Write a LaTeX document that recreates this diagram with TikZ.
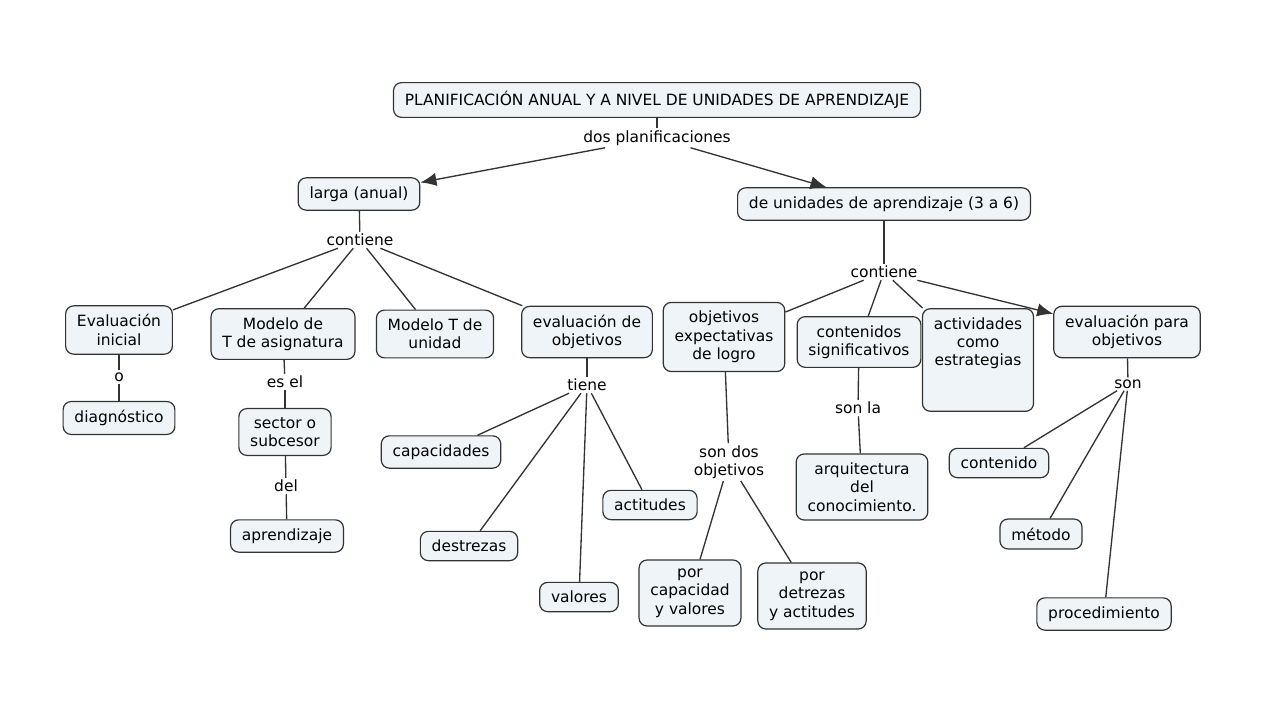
\documentclass[tikz,border=0pt]{standalone}
\usepackage{fontspec}
\setmainfont{DejaVu Sans}
\usetikzlibrary{arrows.meta}
\definecolor{conceptFill}{HTML}{EEF4F7}
\definecolor{edgeColor}{HTML}{333333}

\begin{document}
\begin{tikzpicture}[x=0.75pt,y=-0.75pt,font=\fontsize{11.6}{13.8}\selectfont]

            \tikzstyle{concept} = [draw=edgeColor, line width=0.9pt, fill=conceptFill, rounded corners=6pt, align=center, inner xsep=8.5pt, inner ysep=6.5pt];
            \tikzstyle{linkLabel} = [inner sep=1.5pt, align=center];
            \tikzstyle{normalEdge} = [edgeColor, line width=1pt];
            \tikzstyle{arrowEdge} = [edgeColor, line width=1pt, -{Latex[length=12pt,width=10pt]}];

            \useasboundingbox (0,0) rectangle (1280,720);

            % top
            \node[concept] (plan) at (657,100) {PLANIFICACIÓN ANUAL Y A NIVEL DE UNIDADES DE APRENDIZAJE};
            \node[linkLabel] (dos) at (657,138) {dos planificaciones};
            \node[concept] (larga) at (359,194) {larga (anual)};
            \node[concept] (unid) at (884,204) {de unidades de aprendizaje (3 a 6)};

            % left branch
            \node[linkLabel] (contL) at (360,240) {contiene};
            \node[concept] (evini) at (119,330) {Evaluación\\inicial};
            \node[linkLabel] (o) at (119,377) {o};
            \node[concept] (diag) at (119,418) {diagnóstico};
            \node[concept] (modasig) at (283,334) {Modelo de\\T de asignatura};
            \node[linkLabel] (esel) at (285,382) {es el};
            \node[concept] (sector) at (285,432) {sector o\\subcesor};
            \node[linkLabel] (del) at (286,486) {del};
            \node[concept] (aprend) at (287,536) {aprendizaje};
            \node[concept] (modunid) at (435,334) {Modelo T de\\unidad};
            \node[concept] (evobj) at (587,332) {evaluación de\\objetivos};
            \node[linkLabel] (tiene) at (587,385) {tiene};
            \node[concept] (capac) at (441,452) {capacidades};
            \node[concept] (destr) at (469,546) {destrezas};
            \node[concept] (valor) at (579,597) {valores};
            \node[concept] (actit) at (650,505) {actitudes};

            % right branch
            \node[linkLabel] (contR) at (884,272) {contiene};
            \node[concept] (objexp) at (724,337) {objetivos\\expectativas\\de logro};
            \node[linkLabel] (sondos) at (729,462) {son dos\\objetivos};
            \node[concept] (porcap) at (690,593) {por\\capacidad\\y valores};
            \node[concept] (pordet) at (812,596) {por\\detrezas\\y actitudes};
            \node[concept] (contsig) at (859,342) {contenidos\\significativos};
            \node[linkLabel] (sonla) at (858,408) {son la};
            \node[concept] (arqui) at (862,487) {arquitectura\\del\\conocimiento.};
            \node[concept] (activ) at (978,360) {actividades\\como\\estrategias\\[13.8pt]};
            \node[concept] (evpara) at (1127,332) {evaluación para\\objetivos};
            \node[linkLabel] (son) at (1128,384) {son};
            \node[concept] (conte) at (999,463) {contenido};
            \node[concept] (metod) at (1041,534) {método};
            \node[concept] (proced) at (1104,614) {procedimiento};

            \draw[normalEdge] (plan) -- (dos);
            \draw[arrowEdge] (dos) -- (larga);
            \draw[arrowEdge] (dos) -- (unid);

            \draw[normalEdge] (larga) -- (contL);
            \draw[normalEdge] (contL) -- (evini);
            \draw[normalEdge] (contL) -- (modasig);
            \draw[normalEdge] (contL) -- (modunid);
            \draw[normalEdge] (contL) -- (evobj);
            \draw[normalEdge] (evini) -- (o);
            \draw[normalEdge] (o) -- (diag);
            \draw[normalEdge] (modasig) -- (esel);
            \draw[normalEdge] (esel) -- (sector);
            \draw[normalEdge] (sector) -- (del);
            \draw[normalEdge] (del) -- (aprend);
            \draw[normalEdge] (evobj) -- (tiene);
            \draw[normalEdge] (tiene) -- (capac);
            \draw[normalEdge] (tiene) -- (destr);
            \draw[normalEdge] (tiene) -- (valor);
            \draw[normalEdge] (tiene) -- (actit);

            \draw[normalEdge] (unid) -- (contR);
            \draw[normalEdge] (contR) -- (objexp);
            \draw[normalEdge] (contR) -- (contsig);
            \draw[normalEdge] (contR) -- (activ);
            \draw[arrowEdge] (contR) -- (evpara);
            \draw[normalEdge] (objexp) -- (sondos);
            \draw[normalEdge] (sondos) -- (porcap);
            \draw[normalEdge] (sondos) -- (pordet);
            \draw[normalEdge] (contsig) -- (sonla);
            \draw[normalEdge] (sonla) -- (arqui);
            \draw[normalEdge] (evpara) -- (son);
            \draw[normalEdge] (son) -- (conte);
            \draw[normalEdge] (son) -- (metod);
            \draw[normalEdge] (son) -- (proced);
          \end{tikzpicture}
\end{document}
